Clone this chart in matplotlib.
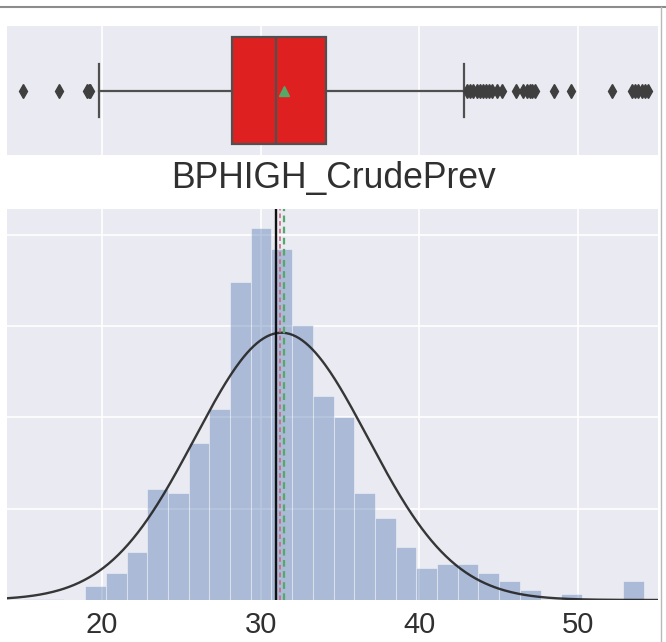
import numpy as np
import matplotlib.pyplot as plt
from matplotlib.lines import Line2D

# histogram of BPHIGH_CrudePrev (density, 30 equal bins)
bin_start, bin_stop = 15.02, 54.15
densities = [0.0004, 0.0004, 0.0, 0.0039, 0.0073, 0.0132, 0.0305, 0.0294,
             0.0431, 0.0522, 0.0870, 0.1018, 0.0961, 0.0753, 0.0558, 0.0501,
             0.0294, 0.0224, 0.0144, 0.0087, 0.0099, 0.0099, 0.0073, 0.0053,
             0.0027, 0.0004, 0.0016, 0.0, 0.0004, 0.0053]

# box plot summary
q1, median, q3 = 28.16, 30.97, 34.12
mean = 31.48
whisker_lo, whisker_hi = 19.81, 42.82
fliers = [15.05, 17.3, 19.05, 19.15, 19.25,
          42.98, 43.2, 43.4, 43.6, 43.8, 44.0, 44.2, 44.4, 44.6, 44.9, 45.19,
          46.07, 46.55, 46.75, 46.95, 47.1, 47.28, 48.5, 49.55, 52.12,
          53.38, 53.6, 53.8, 54.0, 54.2, 54.42]

# vertical reference lines and fitted normal
median_line, mid_line, mean_line = 30.95, 31.2, 31.45
fit_mu, fit_sigma = 31.3, 5.45

x_ticks = [20, 30, 40, 50]
x_range = (14.03, 55.03)
title = "BPHIGH_CrudePrev"

bg = "#EAEAF2"
txt = "#303030"
plt.rcParams["font.family"] = ["Liberation Sans", "DejaVu Sans"]

fig = plt.figure(figsize=(6.66, 6.42), dpi=100)
W, H = 666, 642


def px_axes(x0, y0, x1, y1):
    return fig.add_axes([x0 / W, 1 - y1 / H, (x1 - x0) / W, (y1 - y0) / H])


ax_box = px_axes(7.3, 26, 658, 155)
ax_hist = px_axes(7.3, 209.3, 658, 600)

for ax in (ax_box, ax_hist):
    ax.set_facecolor(bg)
    ax.set_axisbelow(True)
    for s in ax.spines.values():
        s.set_visible(False)
    ax.set_xlim(*x_range)
    ax.set_xticks(x_ticks)
    ax.grid(True, color="white", lw=1.2)
    ax.tick_params(length=0)

# box plot
gray = "#505050"
stats = [dict(med=median, q1=q1, q3=q3, whislo=whisker_lo, whishi=whisker_hi,
              mean=mean, fliers=fliers)]
ax_box.bxp(stats, positions=[0], orientation="horizontal", widths=0.83,
           capwidths=[0.41], patch_artist=True, showmeans=True,
           boxprops=dict(facecolor="#DF2020", edgecolor=gray, lw=1.6),
           medianprops=dict(color=gray, lw=1.6),
           whiskerprops=dict(color=gray, lw=1.6),
           capprops=dict(color=gray, lw=1.6),
           flierprops=dict(marker="d", markerfacecolor="#3f3f3f",
                           markeredgecolor="#3f3f3f", markersize=7),
           meanprops=dict(marker="^", markerfacecolor="#55A868",
                          markeredgecolor="#55A868", markersize=7))
ax_box.set_ylim(0.5, -0.5)
ax_box.set_yticks([])
ax_box.set_xticklabels([])
ax_box.grid(False, axis="y")

fig.text(333 / W, 1 - 188 / H, title, ha="center", va="baseline",
         fontsize=25.6, color=txt)

# histogram
edges = np.linspace(bin_start, bin_stop, len(densities) + 1)
ax_hist.bar(edges[:-1], densities, width=np.diff(edges), align="edge",
            color="#4C72B0", alpha=0.4, edgecolor="white", linewidth=0.8)

xs = np.linspace(x_range[0], x_range[1], 400)
pdf = np.exp(-0.5 * ((xs - fit_mu) / fit_sigma) ** 2) / (fit_sigma * np.sqrt(2 * np.pi))
ax_hist.plot(xs, pdf, color="#222222", lw=1.7, alpha=0.9)

ax_hist.axvline(median_line, color="#111111", lw=1.7)
ax_hist.axvline(mid_line, color="#D0607A", lw=1.1, ls=(0, (3, 2)))
ax_hist.axvline(mean_line, color="#55A868", lw=1.6, ls=(0, (3, 2)))

ax_hist.set_ylim(0, 0.107)
ax_hist.set_yticks([0.025, 0.05, 0.075, 0.1])
ax_hist.set_yticklabels([])
ax_hist.tick_params(axis="x", labelsize=21, labelcolor=txt, pad=8)

# frame lines of the original screenshot
fig.add_artist(Line2D([0, 1], [1 - 6.5 / H] * 2, transform=fig.transFigure,
                      color="#8c8c8c", lw=1.5))
fig.add_artist(Line2D([661 / W] * 2, [0, 1 - 6.5 / H], transform=fig.transFigure,
                      color="#b8b8b8", lw=1.0))

fig.savefig("out.png", dpi=100, facecolor="white")
